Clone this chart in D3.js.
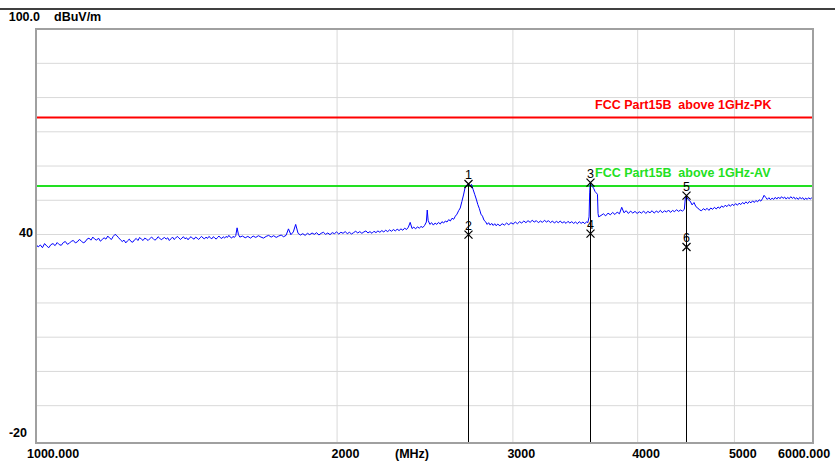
<!DOCTYPE html>
<html><head><meta charset="utf-8">
<script src="https://cdn.jsdelivr.net/npm/d3@7"></script>
<style>
html,body{margin:0;padding:0;background:#fff;}
svg{display:block;}
text{font-family:"Liberation Sans",Arial,sans-serif;}
</style></head>
<body>
<svg id="chart" width="835" height="462"></svg>
<script>
// ---------- data ----------
const freqDomain = [1000, 6000];
const levelDomain = [-20, 100];
const yGridValues = [-10, 0, 10, 20, 30, 40, 50, 60, 70, 80, 90];
const xGridValues = [2000, 3000, 4000, 5000];
const xTickValues = [1000, 2000, 3000, 4000, 5000, 6000];
const xTickLabels = ["1000.000", "2000", "3000", "4000", "5000", "6000.000"];
const yTickValues = [100, 40, -20];
const yTickLabels = ["100.0", "40", "-20"];
const unitLabel = "dBuV/m";
const freqUnit = "(MHz)";

const limitNames = ["FCC Part15B  above 1GHz-PK", "FCC Part15B  above 1GHz-AV"];
const limitLevels = [74, 54];
const limitColors = ["#ff0000", "#22e022"];

const markerNums = ["1", "2", "3", "4", "5", "6"];
const markerFreqs = [2710, 2710, 3590, 3590, 4474, 4474];
const markerLevels = [54.6, 39.8, 55.0, 40.1, 51.2, 36.2];

// trace: [frequency MHz, level dBuV/m]
const trace = [
[1000,37.0],[1005,36.2],[1010,36.8],[1015,36.0],[1020,37.2],[1025,36.5],[1030,36.0],[1035,36.9],[1040,37.2],[1045,36.6],
[1050,37.5],[1055,36.9],[1060,36.7],[1065,37.5],[1070,37.8],[1075,37.0],[1080,37.3],[1085,37.9],[1090,38.1],[1095,37.4],
[1100,37.7],[1105,38.4],[1110,38.0],[1115,37.4],[1120,37.7],[1125,38.5],[1130,38.8],[1135,38.2],[1140,39.1],[1145,38.5],
[1150,38.2],[1155,38.8],[1160,37.9],[1165,38.4],[1170,38.9],[1175,38.5],[1180,39.4],[1185,38.8],[1190,38.4],[1195,39.3],
[1200,39.9],[1205,39.5],[1210,38.9],[1215,38.3],[1220,37.8],[1225,38.2],[1230,37.4],[1235,38.0],[1240,38.5],[1245,37.8],
[1250,37.6],[1255,38.3],[1260,38.7],[1265,38.1],[1270,39.0],[1275,38.5],[1280,38.1],[1285,38.8],[1290,38.5],[1295,38.1],
[1300,38.6],[1305,39.1],[1310,38.7],[1315,38.2],[1320,38.5],[1325,39.2],[1330,38.8],[1335,38.3],[1340,38.7],[1345,39.0],
[1350,38.5],[1355,38.9],[1360,38.1],[1365,38.6],[1370,39.1],[1375,38.4],[1380,38.8],[1385,39.3],[1390,38.9],[1395,38.4],
[1400,38.8],[1405,39.2],[1410,38.6],[1415,38.9],[1420,38.3],[1425,38.9],[1430,39.2],[1435,38.7],[1440,38.5],[1445,39.1],
[1450,38.8],[1455,38.4],[1460,38.9],[1465,39.3],[1470,38.8],[1475,38.6],[1480,39.1],[1485,38.7],[1490,39.3],[1495,38.9],
[1500,38.6],[1505,39.2],[1510,38.9],[1515,38.5],[1520,39.0],[1525,39.4],[1530,38.9],[1535,38.7],[1540,39.2],[1545,38.8],
[1550,39.3],[1555,39.0],[1560,39.6],[1565,39.1],[1570,38.8],[1575,39.3],[1580,39.0],[1585,39.5],[1590,41.8],[1595,39.8],
[1600,39.1],[1610,39.4],[1620,38.9],[1630,39.3],[1640,38.8],[1650,39.4],[1660,39.0],[1670,39.5],[1680,39.1],[1690,38.8],
[1700,39.3],[1710,39.6],[1720,39.1],[1730,39.5],[1740,39.0],[1750,39.4],[1760,39.7],[1770,39.2],[1780,39.6],[1790,41.5],
[1800,39.8],[1810,40.6],[1820,42.8],[1830,40.2],[1840,39.7],[1850,40.1],[1860,39.6],[1870,40.2],[1880,39.8],[1890,40.3],
[1900,39.9],[1910,40.4],[1920,39.7],[1930,40.2],[1940,40.5],[1950,39.9],[1960,40.3],[1970,39.8],[1980,40.4],[1990,40.1],
[2000,40.6],[2010,40.0],[2020,40.5],[2030,40.2],[2040,40.7],[2050,40.1],[2060,40.5],[2070,40.0],[2080,40.4],[2090,40.8],
[2100,40.3],[2110,40.7],[2120,40.2],[2130,40.6],[2140,40.9],[2150,40.3],[2160,40.7],[2170,40.2],[2180,40.8],[2190,40.4],
[2200,40.9],[2210,40.5],[2220,41.0],[2230,40.6],[2240,41.1],[2250,40.7],[2260,41.2],[2270,40.8],[2280,41.3],[2290,40.9],
[2300,41.4],[2310,41.0],[2320,41.5],[2330,41.1],[2340,41.7],[2350,41.3],[2360,42.0],[2370,43.4],[2380,41.6],[2390,42.0],
[2400,41.5],[2410,42.1],[2420,41.7],[2430,42.2],[2440,41.9],[2450,42.5],[2460,43.5],[2465,47.0],[2470,44.0],[2480,42.8],
[2490,43.3],[2500,42.6],[2510,43.2],[2520,42.8],[2530,43.4],[2540,42.9],[2550,43.6],[2560,43.2],[2570,43.8],[2580,43.5],
[2590,44.2],[2600,43.8],[2610,44.6],[2620,44.3],[2630,45.2],[2640,45.8],[2650,46.8],[2660,47.6],[2670,49.5],[2680,51.4],
[2690,53.6],[2700,54.3],[2710,54.6],[2720,54.0],[2730,54.5],[2740,53.0],[2750,51.6],[2760,50.2],[2770,48.6],[2780,47.4],
[2790,45.8],[2800,45.2],[2810,44.0],[2820,43.6],[2830,42.8],[2840,43.3],[2850,42.6],[2860,43.1],[2870,42.5],[2880,43.0],
[2890,42.4],[2900,42.9],[2915,42.4],[2930,43.0],[2945,42.6],[2960,43.2],[2975,42.7],[2990,43.3],[3005,42.9],[3020,43.5],
[3035,43.0],[3050,43.6],[3065,43.2],[3080,43.8],[3095,43.3],[3110,43.9],[3125,43.4],[3140,44.0],[3155,43.5],[3170,43.9],
[3185,43.3],[3200,43.8],[3215,43.4],[3230,44.0],[3245,43.5],[3260,43.9],[3275,43.3],[3290,43.8],[3305,43.2],[3320,43.7],
[3335,43.3],[3350,43.8],[3365,43.2],[3380,43.6],[3395,43.1],[3410,43.7],[3425,43.2],[3440,43.6],[3455,43.1],[3470,43.5],
[3485,43.0],[3500,43.6],[3515,43.1],[3530,43.5],[3545,43.0],[3560,43.6],[3570,43.3],[3580,45.0],[3585,52.0],[3590,55.0],
[3600,54.2],[3610,53.8],[3620,53.2],[3630,52.4],[3640,52.0],[3650,51.6],[3655,46.0],[3660,45.0],[3680,45.4],[3700,45.9],
[3720,45.3],[3740,46.1],[3760,45.6],[3780,46.3],[3800,45.7],[3820,46.4],[3840,45.9],[3860,47.8],[3880,46.2],[3900,46.8],
[3920,46.0],[3940,46.7],[3960,46.1],[3980,46.6],[4000,46.0],[4020,46.5],[4040,46.1],[4060,46.7],[4080,46.0],[4100,46.6],
[4120,46.2],[4140,46.8],[4160,46.1],[4180,46.7],[4200,46.3],[4220,46.9],[4240,46.2],[4260,46.8],[4280,46.4],[4300,47.0],
[4320,46.3],[4340,46.9],[4360,46.5],[4380,47.1],[4400,46.6],[4420,47.0],[4440,46.7],[4460,47.2],[4470,50.5],[4480,51.0],
[4500,50.0],[4520,49.6],[4540,48.5],[4560,49.2],[4580,48.0],[4600,47.6],[4620,47.0],[4640,46.8],[4660,47.4],[4680,47.0],
[4700,47.5],[4720,46.9],[4740,47.6],[4760,47.2],[4780,47.8],[4800,47.3],[4820,47.9],[4840,47.5],[4860,48.2],[4880,47.8],
[4900,48.4],[4920,48.0],[4940,48.6],[4960,48.1],[4980,48.7],[5000,48.3],[5020,48.9],[5040,48.4],[5060,49.0],[5080,48.6],
[5100,49.2],[5120,48.8],[5140,49.4],[5160,48.9],[5180,49.5],[5200,49.1],[5220,49.7],[5240,49.2],[5260,49.8],[5280,49.4],
[5300,50.0],[5320,49.6],[5340,50.3],[5360,51.3],[5380,50.7],[5400,50.1],[5420,50.6],[5440,50.0],[5460,50.5],[5480,50.1],
[5500,50.7],[5520,50.2],[5540,50.8],[5560,50.3],[5580,50.9],[5600,50.4],[5620,50.8],[5640,50.2],[5660,50.7],[5680,50.3],
[5700,50.9],[5720,50.4],[5740,50.8],[5760,50.2],[5780,50.6],[5800,50.1],[5820,50.7],[5840,50.3],[5860,50.6],[5880,50.0],
[5900,50.5],[5920,50.1],[5940,50.6],[5960,50.2],[5980,50.5],[6000,50.1]
];

// ---------- drawing ----------
const svg = d3.select("#chart");
const L = 36, R = 813, T = 29, B = 443;
const x = d3.scaleLog().domain(freqDomain).range([L, R]);
const y = d3.scaleLinear().domain(levelDomain).range([439.4, 28.6]);

// top rule
svg.append("line").attr("x1", 0).attr("x2", 835).attr("y1", 9).attr("y2", 9)
  .attr("stroke", "#000").attr("stroke-width", 1.5);

// grid via axes
const gy = svg.append("g").attr("transform", `translate(${L},0)`)
  .call(d3.axisLeft(y).tickValues(yGridValues).tickSize(-(R - L)).tickFormat(""));
gy.select(".domain").remove();
gy.selectAll(".tick line").attr("stroke", "#d9d9d9").attr("stroke-width", 1);

const gx = svg.append("g").attr("transform", `translate(0,${B})`)
  .call(d3.axisBottom(x).tickValues(xGridValues).tickSize(-(B - T)).tickFormat(""));
gx.select(".domain").remove();
gx.selectAll(".tick line").attr("stroke", "#d9d9d9").attr("stroke-width", 1);

// clip
svg.append("clipPath").attr("id", "plotclip").append("rect")
  .attr("x", L).attr("y", T).attr("width", R - L).attr("height", B - T);

// limit lines
svg.append("g").selectAll("line").data(limitLevels).join("line")
  .attr("x1", L).attr("x2", R).attr("y1", d => y(d)).attr("y2", d => y(d))
  .attr("stroke", (d, i) => limitColors[i]).attr("stroke-width", 2);
svg.append("g").selectAll("text").data(limitNames).join("text")
  .attr("x", 595).attr("y", (d, i) => y(limitLevels[i]) - 9)
  .attr("fill", (d, i) => limitColors[i]).attr("font-size", "12.5px").attr("font-weight", "bold")
  .style("white-space", "pre").text(d => d);

// trace
const line = d3.line().x(d => x(d[0])).y(d => y(d[1]));
svg.append("path").datum(trace).attr("d", line).attr("fill", "none")
  .attr("stroke", "#0000ff").attr("stroke-width", 1).attr("clip-path", "url(#plotclip)");

// marker lines (from upper marker down to bottom)
const mIdx = d3.range(markerNums.length);
svg.append("g").selectAll("line").data(mIdx.filter(i => i % 2 === 0)).join("line")
  .attr("x1", i => Math.round(x(markerFreqs[i])) + 0.5).attr("x2", i => Math.round(x(markerFreqs[i])) + 0.5)
  .attr("y1", i => y(markerLevels[i])).attr("y2", B)
  .attr("stroke", "#000").attr("stroke-width", 1);

const mg = svg.append("g").selectAll("g").data(mIdx).join("g")
  .attr("transform", i => `translate(${Math.round(x(markerFreqs[i])) + 0.5},${y(markerLevels[i])})`);
mg.append("path").attr("d", "M-4,-4L4,4M-4,4L4,-4")
  .attr("stroke", "#000").attr("stroke-width", 1.2).attr("fill", "none");
mg.append("text").attr("x", 0).attr("y", -5).attr("text-anchor", "middle")
  .attr("font-size", "12.5px").attr("fill", "#000").text(i => markerNums[i]);

// frame
svg.append("rect").attr("x", L).attr("y", T).attr("width", R - L).attr("height", B - T)
  .attr("fill", "none").attr("stroke", "#a0a0a0").attr("stroke-width", 2);

// axis labels
svg.append("g").selectAll("text").data(xTickValues).join("text")
  .attr("x", (d, i) => i === 0 ? 27 : (i === xTickValues.length - 1 ? 778 : x(d) - 5))
  .attr("y", 458).attr("font-size", "12.5px").attr("font-weight", "bold").attr("fill", "#000")
  .text((d, i) => xTickLabels[i]);
svg.append("text").attr("x", 395).attr("y", 458).attr("font-size", "12.5px")
  .attr("font-weight", "bold").text(freqUnit);

svg.append("g").selectAll("text").data(yTickValues).join("text")
  .attr("x", d => d === 100 ? 40 : (d === -20 ? 27 : 33)).attr("text-anchor", "end")
  .attr("y", d => d === 100 ? 21 : (d === -20 ? 437 : y(d) + 3))
  .attr("font-size", "12.5px").attr("font-weight", "bold").attr("fill", "#000")
  .text((d, i) => yTickLabels[i]);
svg.append("text").attr("x", 54).attr("y", 21).attr("font-size", "12.5px")
  .attr("font-weight", "bold").text(unitLabel);
</script>
</body></html>
